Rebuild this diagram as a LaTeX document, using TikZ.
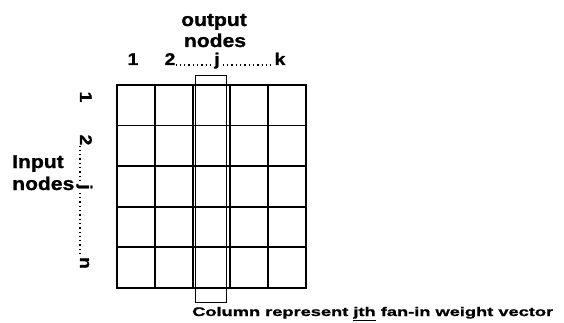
\documentclass[tikz,border=0pt]{standalone}
\usepackage{fontspec}
\setmainfont{Liberation Sans}[FakeStretch=1.14,FakeBold=1.2]
\newfontfamily\widefont{Liberation Sans}[FakeStretch=1.46,FakeBold=1.2]
\usetikzlibrary{positioning}

\tikzset{
  cellbox/.style={draw,line width=1.9pt,minimum width=37.8pt,minimum height=40.6pt,inner sep=0pt},
  colbox/.style={draw,line width=1.1pt,minimum width=31pt,minimum height=227pt,inner sep=0pt},
  lbl/.style={font=\bfseries\fontsize{17}{19}\selectfont,inner sep=0pt},
  headlbl/.style={font=\bfseries\fontsize{18.5}{21}\selectfont,inner sep=0pt},
  rowlbl/.style={lbl,rotate=-90},
  dots/.style={line width=1.3pt,dash pattern=on 1.3pt off 3pt},
  notelbl/.style={font=\widefont\bfseries\fontsize{12.5}{14}\selectfont,inner sep=0pt}
}

\begin{document}
\begin{tikzpicture}[x=1pt,y=-1pt]
  \useasboundingbox (0,0) rectangle (564,323);
  % weight grid
  \foreach \r in {0,...,4}
    \foreach \c in {0,...,4}
      \node[cellbox,anchor=north west] (cell-\r-\c) at ({116+37.8*\c},{84+40.6*\r}) {};
  \node[colbox,anchor=north west] (jcol) at (195,75) {};

  \node[headlbl,anchor=base] (outtop) at (214,26) {output};
  \node[headlbl,anchor=base] (outbot) at (215,47) {nodes};

  \node[lbl,anchor=base] (c1) at (133,65) {1};
  \node[lbl,anchor=base] (c2) at (170,65) {2};
  \node[lbl,anchor=base] (ck) at (280,65) {k};
  \draw[dots] (c2.base east) -- (ck.base west);
  \node[lbl,anchor=base,fill=white,inner xsep=1pt] (cj) at (217,65) {j};

  \node[rowlbl,anchor=base] (r1) at (80,97) {1};
  \node[rowlbl,anchor=base] (r2) at (80,140) {2};
  \node[rowlbl,anchor=base] (rn) at (80,263) {n};
  \draw[dots] (r2.base east) -- (rn.base west);
  \node[rowlbl,anchor=base,fill=white,inner xsep=1pt] (rj) at (80,187) {j};

  \node[headlbl,anchor=base west] (intop) at (12,168) {Input};
  \node[headlbl,anchor=base west] (inbot) at (12,190) {nodes};

  \node[notelbl,anchor=base west] (note) at (192,316) {Column represent \underline{jth} fan-in weight vector};
\end{tikzpicture}
\end{document}
